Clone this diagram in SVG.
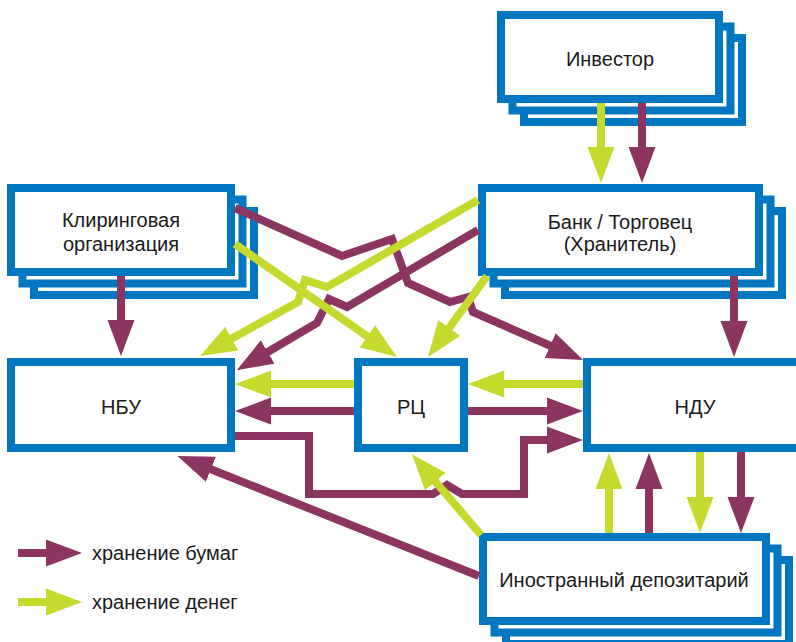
<svg xmlns="http://www.w3.org/2000/svg" width="796" height="642" viewBox="0 0 796 642">
<defs>
<style>
.box{fill:#fff;stroke:#0077c0;stroke-width:8}
.t{font-family:"Liberation Sans",Arial,sans-serif;font-size:20px;fill:#1a1a1a;text-anchor:middle}
.lg{font-family:"Liberation Sans",Arial,sans-serif;font-size:20px;fill:#1a1a1a}
.p{fill:none;stroke:#8c3560;stroke-width:8;stroke-linejoin:miter;marker-end:url(#ap)}
.g{fill:none;stroke:#c6d92e;stroke-width:8;stroke-linejoin:miter;marker-end:url(#ag)}
</style>
<marker id="ap" markerUnits="userSpaceOnUse" markerWidth="36" markerHeight="28" viewBox="0 -14 36 28" refX="2" refY="0" orient="auto"><path d="M0,-13.5 L36,0 L0,13.5 Z" fill="#8c3560"/></marker>
<marker id="ag" markerUnits="userSpaceOnUse" markerWidth="36" markerHeight="28" viewBox="0 -14 36 28" refX="2" refY="0" orient="auto"><path d="M0,-13.5 L36,0 L0,13.5 Z" fill="#c6d92e"/></marker>
</defs>
<rect width="796" height="642" fill="#fff"/>

<g id="investor">
<rect class="box" x="524" y="38" width="218" height="84"/>
<rect class="box" x="512.5" y="26.5" width="218" height="84"/>
<rect class="box" x="501" y="15" width="218" height="84"/>
<text class="t" x="610" y="66">Инвестор</text>
</g>

<g id="clearing">
<rect class="box" x="34" y="211" width="220" height="84"/>
<rect class="box" x="22.5" y="199.5" width="220" height="84"/>
<rect class="box" x="11" y="188" width="220" height="84"/>
<text class="t" x="121" y="227">Клиринговая</text>
<text class="t" x="121" y="251">организация</text>
</g>

<g id="bank">
<rect class="box" x="505" y="211" width="277" height="84"/>
<rect class="box" x="493.5" y="199.5" width="277" height="84"/>
<rect class="box" x="482" y="188" width="277" height="84"/>
<text class="t" x="620" y="229">Банк / Торговец</text>
<text class="t" x="620" y="251">(Хранитель)</text>
</g>

<g id="nbu">
<rect class="box" x="11" y="362" width="220" height="86"/>
<text class="t" x="121" y="414">НБУ</text>
</g>

<g id="rc">
<rect class="box" x="358" y="362" width="106" height="86"/>
<text class="t" x="411" y="414">РЦ</text>
</g>

<g id="ndu">
<rect class="box" x="587" y="362" width="217" height="86"/>
<text class="t" x="695" y="414">НДУ</text>
</g>

<g id="foreign">
<rect class="box" x="506" y="560" width="283" height="84"/>
<rect class="box" x="494.5" y="548.5" width="283" height="84"/>
<rect class="box" x="483" y="537" width="283" height="84"/>
<text class="t" x="624" y="587">Иностранный депозитарий</text>
</g>

<g id="connectors">
<path class="g" d="M601,103 V149"/>
<path class="p" d="M642,103 V149"/>
<path class="p" d="M121,276 V322"/>
<path class="p" d="M734,276 V323"/>
<path class="g" d="M583,384 H502"/>
<path class="g" d="M354,384 H269"/>
<path class="p" d="M354,411 H269"/>
<path class="p" d="M468,411 H549"/>
<path class="p" d="M235,436 H309 V494 H433 L447,485 L462,494 H524 V440 H549"/>
<path class="p" d="M479,576 L209,468.5"/>
<path class="g" d="M481,535 L434,480"/>
<path class="g" d="M609,533 V487"/>
<path class="p" d="M649,533 V487"/>
<path class="g" d="M700,452 V499"/>
<path class="p" d="M741,452 V499"/>
<path class="p" d="M235,208 L342,256 L392,239 L408,283 L450,302 L468,297 L473,312 L552,346.5"/>
<path class="p" d="M478,230 L347,307 L329,299 L317,323 L266,353"/>
<path class="g" d="M478,200 L327,287 L305,280 L298,302 L230,339.5"/>
<path class="g" d="M235,244 L369,337.5"/>
<path class="g" d="M487,276 L448,329.5"/>
</g>

<g id="legend">
<path class="p" d="M18,553 H48"/>
<text class="lg" x="92" y="560">хранение бумаг</text>
<path class="g" d="M18,602 H48"/>
<text class="lg" x="92" y="609">хранение денег</text>
</g>
</svg>
